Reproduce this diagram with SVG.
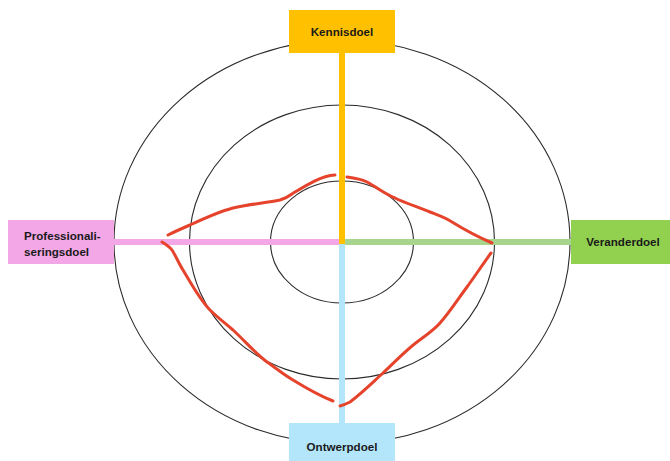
<svg xmlns="http://www.w3.org/2000/svg" width="670" height="461" viewBox="0 0 670 461">
<style>
.ring{fill:none;stroke:#2b2b2b;stroke-width:1.1}
.lbl{font-family:"Liberation Sans",Arial,sans-serif;font-weight:bold;font-size:11.6px;fill:#1a1a1a}
.red{fill:none;stroke:#E5432B;stroke-width:3;stroke-linecap:round;stroke-linejoin:round}
.axis{stroke-width:6;fill:none}
</style>
<rect width="670" height="461" fill="#ffffff"/>
<g id="rings">
<ellipse class="ring" cx="342" cy="242" rx="228" ry="202"/>
<ellipse class="ring" cx="342" cy="242" rx="152.5" ry="137"/>
<ellipse class="ring" cx="342" cy="242" rx="71.5" ry="61"/>
</g>
<g id="connectors">
<line class="axis" x1="114" y1="242" x2="342" y2="242" stroke="#F4A7E7" stroke-width="5"/>
<line class="axis" x1="342" y1="242" x2="571" y2="242" stroke="#A8D58E" stroke-width="5"/>
<line class="axis" x1="342" y1="242" x2="342" y2="423" stroke="#B3E6FA"/>
<line class="axis" x1="342" y1="53" x2="342" y2="244" stroke="#FFC000"/>
</g>
<g id="profile">
<path class="red" d="M168,235 C176,231 183,228 190,225 C205,218 218,212 233,208 C250,204 266,203 280,200 C286,198 288,197 292,194 C305,186 320,176 335,175"/>
<path class="red" d="M347,177 C355,178 361,179 367,182 C378,188 385,194 395,198 C405,203 418,207 430,212 C440,216 446,218 452,222 C465,230 478,237 492,243"/>
<path class="red" d="M162,242 C167,245 170,247 172,250 C177,258 179,264 183,270 C192,285 200,300 210,310 C218,318 225,323 233,330 C245,341 255,353 267,362 C276,368 284,375 293,380 C306,388 320,396 333,401"/>
<path class="red" d="M340,406 C344,405 346,404 350,402 C362,393 372,383 383,373 C395,362 405,351 417,342 C426,335 433,331 440,323 C450,312 458,299 467,287 C475,276 483,264 491,253"/>
</g>
<g id="kennisdoel">
<rect x="289" y="10" width="106" height="43" fill="#FFC000"/>
<text class="lbl" x="342" y="36" text-anchor="middle">Kennisdoel</text>
</g>
<g id="professionaliseringsdoel">
<rect x="8" y="220" width="106" height="44" fill="#F4A7E7"/>
<text class="lbl" x="24" y="240">Professionali-</text>
<text class="lbl" x="24" y="256">seringsdoel</text>
</g>
<g id="veranderdoel">
<rect x="571" y="220" width="99" height="44" fill="#92D050"/>
<text class="lbl" x="623" y="246" text-anchor="middle">Veranderdoel</text>
</g>
<g id="ontwerpdoel">
<rect x="289" y="423" width="106" height="38" fill="#B3E6FA"/>
<text class="lbl" x="342" y="451" text-anchor="middle">Ontwerpdoel</text>
</g>
</svg>
